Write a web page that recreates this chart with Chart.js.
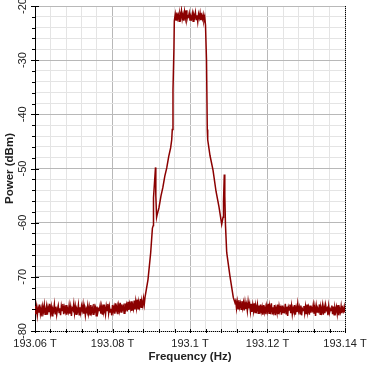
<!DOCTYPE html>
<html lang="en">
<head>
    <meta charset="UTF-8">
    <title>Power spectrum</title>
    <script src="https://cdn.jsdelivr.net/npm/chart.js"></script>
    <style>
        body { margin: 0; background: #fff; }
        #wrap { width: 369px; height: 369px; }
    </style>
</head>
<body>
    <div id="wrap"><canvas id="spectrum" width="369" height="369"></canvas></div>

    <script>
        // noise floor left of the channel, one sample every 0.2 GHz
        const floorStep = 0.0002;
        const floorLeftStart = 193.06;
        const floorLeftDbm = [
            -75.4, -76.9, -75.6, -77.1, -75.8, -76.6, -75.1, -76.8, -75.9, -77.3,
            -75.5, -76.4, -75.2, -76.9, -76.1, -75.3, -77.0, -75.7, -76.5, -75.0,
            -76.7, -75.6, -77.2, -75.9, -76.3, -75.1, -76.8, -75.5, -77.0, -76.0,
            -75.3, -76.6, -75.8, -77.1, -75.4, -76.2, -75.0, -76.9, -75.7, -76.4,
            -75.2, -77.0, -75.9, -76.5, -75.3, -76.8, -75.6, -77.2, -75.8, -76.1,
            -75.0, -76.7, -75.5, -76.9, -75.9, -76.3, -75.2, -77.0, -75.6, -76.6,
            -75.4, -76.2, -75.1, -76.8, -75.7, -77.1, -75.9, -76.4, -75.3, -76.7,
            -75.6, -77.0, -75.2, -76.5, -75.8, -76.9, -75.0, -76.3, -75.7, -77.2,
            -75.5, -76.6, -75.9, -76.1, -75.3, -76.8, -75.6, -77.0, -75.1, -76.4,
            -75.8, -76.9, -75.4, -76.2, -75.0, -76.7, -75.5, -76.5, -75.9, -77.1,
            -75.2, -76.4, -75.6, -76.8, -74.9, -76.1, -75.4, -76.9, -75.3, -76.2,
            -74.8, -76.5, -75.1, -76.0, -75.5, -76.7, -74.9, -75.9, -75.2, -76.4,
            -74.6, -76.1, -75.0, -75.8, -74.5, -76.3, -75.2, -75.9, -74.4, -76.0,
            -74.5, -75.7, -74.2, -75.9, -74.8, -75.5, -74.1, -75.6, -74.6, -75.3,
            -74.0, -75.1
        ];

        // rising edge with the side peak
        const leftEdgeFreq = [
            193.08839, 193.08916, 193.08986, 193.09030, 193.09053, 193.09058,
            193.09110, 193.09118, 193.09138, 193.09150, 193.09200, 193.09250,
            193.09300, 193.09350, 193.09400, 193.09450, 193.09500, 193.09528,
            193.09543, 193.09561, 193.09585, 193.09595
        ];
        const leftEdgeDbm = [
            -73.8, -70.5, -65.5, -61.0, -60.5, -55.4,
            -49.8, -55.0, -59.0, -58.6, -57.2, -55.1,
            -53.5, -51.4, -49.9, -47.8, -46.2, -44.7,
            -42.8, -35.5, -28.0, -22.8
        ];

        // flat top of the channel
        const topStart = 193.0962;
        const topDbm = [
            -21.5, -22.6, -21.2, -22.3, -21.7, -22.8, -21.4, -22.1, -20.9, -22.4,
            -21.6, -22.7, -21.1, -22.2, -20.8, -22.5, -21.8, -22.0, -21.3, -22.6,
            -21.9, -22.3, -21.4, -22.8, -21.6, -22.1, -21.2, -22.5, -21.7, -22.9,
            -21.5, -22.2, -21.3, -22.6, -21.8, -22.4, -21.6, -22.7, -22.0
        ];

        // falling edge with the side peak
        const rightEdgeFreq = [
            193.10400, 193.10426, 193.10446, 193.10457, 193.10516, 193.10594,
            193.10671, 193.10748, 193.10818, 193.10852, 193.10865, 193.10885,
            193.10898, 193.10916, 193.10947, 193.11032, 193.11117, 193.11161
        ];
        const rightEdgeDbm = [
            -23.5, -30.0, -42.8, -44.7, -47.6, -50.3,
            -54.2, -57.1, -60.3, -59.0, -56.0, -51.1,
            -55.0, -60.5, -65.5, -69.9, -73.8, -74.8
        ];

        // noise floor right of the channel
        const floorRightStart = 193.1118;
        const floorRightDbm = [
            -74.4, -75.8, -74.6, -75.9, -74.3, -75.6, -74.9, -76.0, -74.5, -75.7,
            -74.8, -76.2, -74.7, -75.9, -75.1, -76.3, -74.6, -75.8, -75.0, -76.4,
            -75.0, -76.5, -75.2, -76.3, -74.9, -76.6, -75.4, -76.1, -75.1, -76.7,
            -75.3, -76.8, -75.1, -76.4, -75.6, -77.0, -75.2, -76.5, -75.7, -76.9,
            -75.4, -76.3, -75.0, -76.7, -75.5, -76.2, -74.9, -76.8, -75.6, -76.4,
            -75.2, -77.1, -75.8, -76.5, -75.1, -76.9, -75.4, -76.2, -75.7, -77.0,
            -75.3, -76.6, -75.9, -76.3, -75.0, -76.8, -75.5, -77.2, -75.6, -76.1,
            -75.1, -76.7, -75.4, -76.9, -75.8, -76.4, -75.2, -77.0, -75.7, -76.5,
            -75.0, -76.3, -75.6, -76.8, -75.3, -77.1, -75.9, -76.2, -75.4, -76.7,
            -75.5, -76.9, -75.1, -76.4, -75.7, -77.0, -75.3, -76.6, -75.8, -76.2,
            -75.2, -76.8, -75.6, -77.2, -75.4, -76.5, -75.9, -76.3, -75.1, -76.9,
            -75.7, -76.4, -75.3, -77.0, -75.6, -76.7, -75.2, -76.1, -75.8, -77.1,
            -75.4, -76.6, -75.9, -76.2, -75.3, -76.9, -75.5, -77.0, -75.7, -76.4,
            -75.6, -76.8, -75.2, -77.1, -75.9, -76.5, -75.4, -76.7, -75.8, -76.3,
            -75.5, -76.6
        ];

        const freqMin = 193.06, freqMax = 193.14;
        const dbmMin = -80, dbmMax = -20;

        function sampled(start, values) {
            return values.map((v, i) => ({ x: start + i * floorStep, y: v }));
        }
        function paired(freqs, values) {
            return freqs.map((f, i) => ({ x: f, y: values[i] }));
        }

        const points = [].concat(
            sampled(floorLeftStart, floorLeftDbm),
            paired(leftEdgeFreq, leftEdgeDbm),
            sampled(topStart, topDbm),
            paired(rightEdgeFreq, rightEdgeDbm),
            sampled(floorRightStart, floorRightDbm)
        );

        const isMajorX = v => Math.abs(v * 50 - Math.round(v * 50)) < 1e-4;
        const isMajorY = v => Math.abs(v % 10) < 1e-6;

        // tick marks across the axes, dotted bottom and right frame
        const axisMarks = {
            id: 'axisMarks',
            afterDraw(chart) {
                const { ctx, chartArea: a, scales: { x, y } } = chart;
                const bx = Math.round(a.bottom) + 0.5;
                const rx = Math.round(a.right) + 0.5;
                ctx.save();
                ctx.strokeStyle = '#000';
                ctx.lineWidth = 1;
                ctx.beginPath();
                y.ticks.forEach(t => {
                    const py = Math.round(y.getPixelForValue(t.value)) + 0.5;
                    const major = isMajorY(t.value);
                    ctx.moveTo(a.left - (major ? 4 : 3), py);
                    ctx.lineTo(a.left + (major ? 4 : 1), py);
                });
                x.ticks.forEach(t => {
                    const px = Math.round(x.getPixelForValue(t.value)) + 0.5;
                    ctx.moveTo(px, a.bottom - 2);
                    ctx.lineTo(px, a.bottom + 2);
                });
                ctx.stroke();
                ctx.setLineDash([1, 1]);
                ctx.beginPath();
                ctx.moveTo(a.left, bx);
                ctx.lineTo(a.right, bx);
                ctx.moveTo(rx, a.top);
                ctx.lineTo(rx, a.bottom);
                ctx.stroke();
                ctx.restore();
            }
        };

        Chart.defaults.font.family = "'Liberation Sans', Arial, sans-serif";
        Chart.defaults.color = '#222';

        new Chart(document.getElementById('spectrum'), {
            type: 'line',
            data: {
                datasets: [{
                    data: points,
                    borderColor: '#8b0000',
                    borderWidth: 1.5,
                    pointRadius: 0,
                    tension: 0,
                    fill: false
                }]
            },
            options: {
                responsive: false,
                animation: false,
                layout: { padding: { top: 6, right: 24, left: 0, bottom: 0 } },
                plugins: { legend: { display: false }, tooltip: { enabled: false } },
                scales: {
                    x: {
                        type: 'linear',
                        min: freqMin,
                        max: freqMax,
                        border: { display: false },
                        grid: {
                            drawTicks: false,
                            color: c => isMajorX(c.tick.value) ? '#b8b8b8' : '#e4e4e4'
                        },
                        ticks: {
                            stepSize: 0.004,
                            autoSkip: false,
                            maxRotation: 0,
                            padding: 6,
                            font: { size: 11 },
                            callback: v => isMajorX(v) ? Number(v.toFixed(3)) + ' T' : ''
                        },
                        title: {
                            display: true,
                            text: 'Frequency (Hz)',
                            font: { size: 11.5, weight: 'bold' },
                            padding: { top: 0, bottom: 5 }
                        },
                        afterFit: s => { s.height = 38; s.paddingLeft = 0; s.paddingRight = 0; }
                    },
                    y: {
                        min: dbmMin,
                        max: dbmMax,
                        border: { color: '#000' },
                        grid: {
                            drawTicks: false,
                            color: c => isMajorY(c.tick.value) ? '#b8b8b8' : '#e4e4e4'
                        },
                        ticks: {
                            stepSize: 2,
                            autoSkip: false,
                            minRotation: 90,
                            maxRotation: 90,
                            crossAlign: 'center',
                            padding: 4,
                            font: { size: 11 },
                            callback: v => isMajorY(v) ? String(v) : ''
                        },
                        title: {
                            display: true,
                            text: 'Power (dBm)',
                            font: { size: 11.5, weight: 'bold' },
                            padding: { top: 3, bottom: 0 }
                        },
                        afterFit: s => { s.width = 35; s.paddingTop = 0; s.paddingBottom = 0; }
                    }
                }
            },
            plugins: [axisMarks]
        });
    </script>
</body>
</html>
